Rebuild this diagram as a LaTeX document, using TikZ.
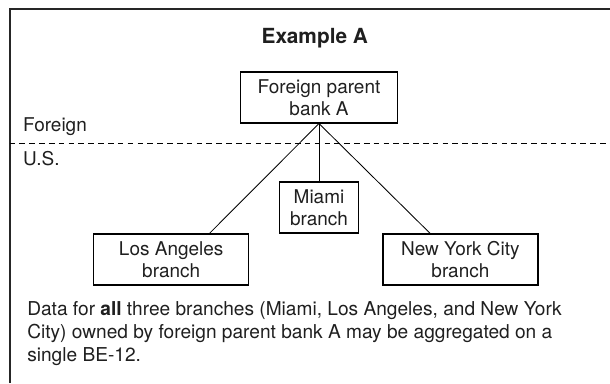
\documentclass[tikz,border=0pt]{standalone}
\usepackage{fontspec}
\setmainfont{TeX Gyre Heros}

\begin{document}
\begin{tikzpicture}[
    every node/.style={font=\fontsize{13.5}{15.6}\selectfont, text=black!88},
    bankbox/.style={draw, line width=0.9pt, align=center, inner sep=0pt, minimum height=1.275cm},
    tie/.style={line width=0.6pt},
    border/.style={line width=1.5pt, black!85}
  ]
  \useasboundingbox (0,0) rectangle (15.25,9.575);

  % frame and the foreign / U.S. divide
  \draw[border] (0.24,0) |- (15.25,9.34);
  \draw[tie, dash pattern=on 4pt off 3pt] (0.24,6.0) -- (15.25,6.0);

  \node[font=\fontsize{14.8}{18}\selectfont\bfseries] (title) at (7.87,8.62) {Example A};
  \node[anchor=west, inner sep=0pt] (foreign) at (0.57,6.42) {Foreign};
  \node[anchor=west, inner sep=0pt] (us) at (0.57,5.6) {U.S.};

  \node[bankbox, minimum width=3.925cm] (parent) at (7.975,7.14) {Foreign parent\\bank A};
  \node[bankbox, minimum width=1.975cm] (miami) at (7.975,4.39) {Miami\\branch};
  \node[bankbox, minimum width=3.875cm] (losangeles) at (4.28,3.09) {Los Angeles\\branch};
  \node[bankbox, minimum width=3.875cm] (newyork) at (11.51,3.09) {New York City\\branch};

  \draw[tie] (parent.south) -- (miami.north);
  \draw[tie] (parent.south) -- ([xshift=0.96cm]losangeles.north);
  \draw[tie] (parent.south) -- ([xshift=-0.76cm]newyork.north);

  \node[anchor=north west, align=left, inner sep=0pt, font=\fontsize{13.6}{16.4}\selectfont] (note) at (0.675,2.05)
    {Data for \textbf{all} three branches (Miami, Los Angeles, and New York\\
     City) owned by foreign parent bank A may be aggregated on a\\
     single BE-12.};
\end{tikzpicture}
\end{document}
